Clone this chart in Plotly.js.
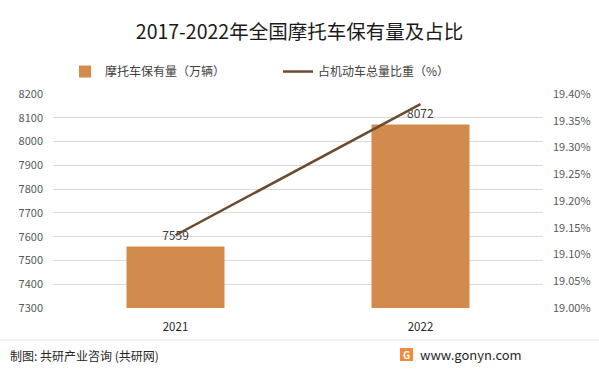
<!DOCTYPE html>
<html>
<head>
<meta charset="utf-8">
<script src="https://cdn.plot.ly/plotly-3.0.1.min.js"></script>
<style>html,body{margin:0;padding:0;background:#fff;}#chart{width:599px;height:369px;}</style>
</head>
<body>
<div id="chart"></div>
<script>
var years = ['2021', '2022'];
var motoStock = [7559, 8072];
var shareOfVehicles = [19.136, 19.381];
var leftTicks = [7300, 7400, 7500, 7600, 7700, 7800, 7900, 8000, 8100, 8200];
var rightTicks = [19.00, 19.05, 19.10, 19.15, 19.20, 19.25, 19.30, 19.35, 19.40];
var rightTickText = rightTicks.map(function(v){ return v.toFixed(2) + '%'; });

var FONT = '"Noto Sans CJK SC", "Microsoft YaHei", sans-serif';

var traces = [
  {
    type: 'bar', name: '摩托车保有量（万辆）',
    x: years, y: motoStock,
    marker: {color: '#D38B4D'},
    width: 0.4,
    text: motoStock.map(String), textposition: 'outside',
    textfont: {family: FONT, size: 12, color: '#404040'},
    cliponaxis: false,
    hoverinfo: 'x+y'
  },
  {
    type: 'scatter', mode: 'lines', name: '占机动车总量比重（%）',
    x: years, y: shareOfVehicles, yaxis: 'y2',
    line: {color: '#6B4A2E', width: 2.5}
  }
];

var layout = {
  width: 599, height: 369,
  margin: {l: 53, r: 56, t: 94, b: 61},
  paper_bgcolor: '#fff', plot_bgcolor: '#fff',
  font: {family: FONT, color: '#595959'},
  title: {text: '2017-2022年全国摩托车保有量及占比', font: {family: FONT, size: 19.5, color: '#1a1a1a'}, x: 0.5, xanchor: 'center', y: 0.912, yanchor: 'middle'},
  showlegend: true,
  legend: {orientation: 'h', x: 0.0245, xanchor: 'left', y: 1.105, yanchor: 'middle',
           font: {family: FONT, size: 12, color: '#404040'}, entrywidth: 168, entrywidthmode: 'pixels',
           bgcolor: 'rgba(0,0,0,0)', traceorder: 'normal'},
  bargap: 0.6,
  xaxis: {type: 'category', showgrid: false, zeroline: false, showline: false, ticks: '', ticklabelstandoff: 10,
          tickfont: {family: FONT, size: 11.5, color: '#262626'}, fixedrange: true},
  yaxis: {range: [7300, 8200], tickvals: leftTicks, showgrid: true, gridcolor: '#D9D9D9', gridwidth: 1, ticklabelstandoff: 9,
          zeroline: false, showline: false, ticks: '', tickfont: {family: FONT, size: 11, color: '#595959'}, fixedrange: true},
  yaxis2: {overlaying: 'y', side: 'right', range: [19.00, 19.40], tickvals: rightTicks, ticktext: rightTickText, ticklabelstandoff: 9,
           showgrid: false, zeroline: false, showline: false, ticks: '', tickfont: {family: FONT, size: 11, color: '#595959'}, fixedrange: true},
  shapes: [
    {type: 'line', xref: 'paper', yref: 'paper', x0: -53/490, x1: 1 + 56/490, y0: -32/214, y1: -32/214, line: {color: '#E6E6E6', width: 1}},
    {type: 'rect', xref: 'paper', yref: 'paper', x0: (400-53)/490, x1: (413-53)/490, y0: -(348-308)/214, y1: -(361-308)/214, fillcolor: '#F08A3C', line: {width: 0}}
  ],
  annotations: [
    {xref: 'paper', yref: 'paper', x: -45/490, xanchor: 'left', y: -(355-308)/214, yanchor: 'middle', showarrow: false,
     text: '制图: 共研产业咨询 (共研网)', font: {family: FONT, size: 12, color: '#262626'}},
    {xref: 'paper', yref: 'paper', x: (418-53)/490, xanchor: 'left', y: -(354-308)/214, yanchor: 'middle', showarrow: false,
     text: 'www.gonyn.com', font: {family: FONT, size: 13, color: '#262626'}},
    {xref: 'paper', yref: 'paper', x: (406.5-53)/490, xanchor: 'center', y: -(354.5-308)/214, yanchor: 'middle', showarrow: false,
     text: '<b>G</b>', font: {family: FONT, size: 10, color: '#ffffff'}}
  ]
};

Plotly.newPlot('chart', traces, layout, {displayModeBar: false, staticPlot: true});
</script>
</body>
</html>
